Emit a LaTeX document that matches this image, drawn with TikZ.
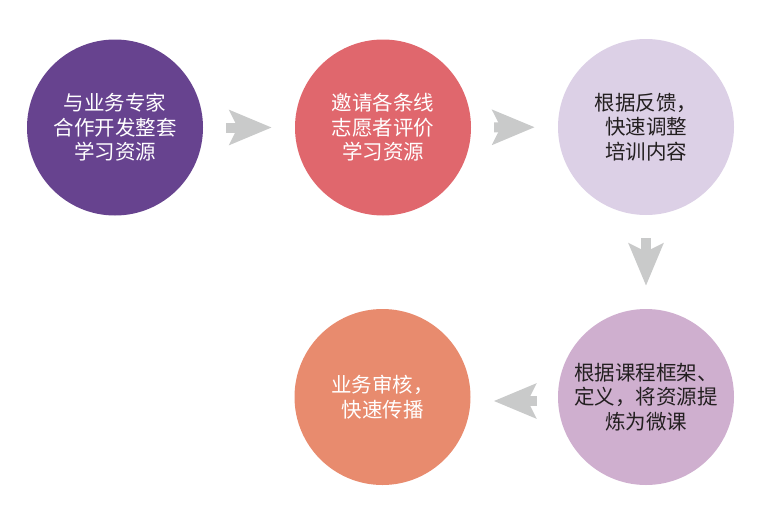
\documentclass[tikz,border=0pt]{standalone}
\usepackage{fontspec}
\usetikzlibrary{arrows.meta,positioning}
\newfontfamily\cjk{Noto Sans CJK SC}
\definecolor{grape}{HTML}{67438F}
\definecolor{coral}{HTML}{E0676D}
\definecolor{lilac}{HTML}{DCD0E6}
\definecolor{mauve}{HTML}{CFAFCF}
\definecolor{salmon}{HTML}{E88B6E}
\definecolor{arrowgray}{HTML}{C9CACA}
\definecolor{inkdark}{HTML}{231F20}

\tikzset{
  stepcircle/.style={circle,minimum size=176pt,inner sep=0pt,align=center,
    font=\cjk\fontsize{20.5}{24.5}\selectfont},
  flow/.style={draw=arrowgray,line width=10pt,shorten >=23pt,shorten <=23pt,
    -{Stealth[length=42pt,width=34pt,inset=8pt,fill=arrowgray]}}
}

\begin{document}
\begin{tikzpicture}[x=1pt,y=-1pt]
\useasboundingbox (0,0) rectangle (771,517);
\node[stepcircle,fill=grape,text=white] (expert) at (115,127.5){与业务专家\\合作开发整套\\学习资源};
\node[stepcircle,fill=coral,text=white] (review) at (383,127.5){邀请各条线\\志愿者评价\\学习资源};
\node[stepcircle,fill=lilac,text=inkdark] (adjust) at (646,127){根据反馈，\\快速调整\\培训内容};
\node[stepcircle,fill=mauve,text=inkdark] (refine) at (646,397){根据课程框架、\\定义，将资源提\\炼为微课};
\node[stepcircle,fill=salmon,text=white] (spread) at (382.5,397){业务审核，\\快速传播};
\draw[flow] (expert) -- (review);
\draw[flow] (review) -- (adjust);
\draw[flow] (adjust) -- (refine);
\draw[flow,shorten <=21pt] ([yshift=-4pt]refine.west) -- ([yshift=-4pt]spread.east);
\end{tikzpicture}
\end{document}
